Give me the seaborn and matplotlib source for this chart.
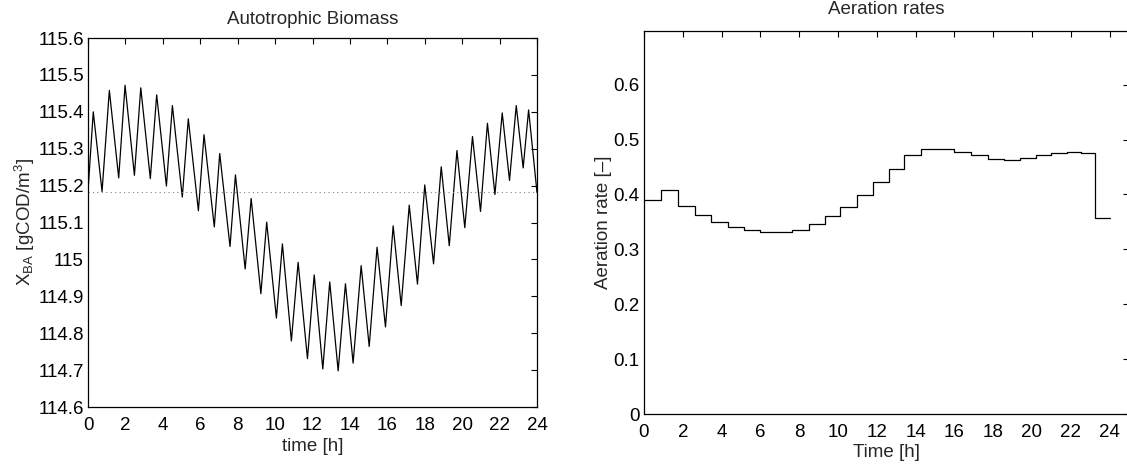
import numpy as np
import matplotlib
matplotlib.use('Agg')
import matplotlib.pyplot as plt
import seaborn as sns
import pandas as pd

# Autotrophic biomass zigzag (time in h, value in gCOD/m3)
t_bio = [0.0, 0.28, 0.75, 1.14, 1.64, 1.98, 2.48, 2.82, 3.33, 3.67, 4.19, 4.51, 5.04,
         5.36, 5.90, 6.20, 6.75, 7.04, 7.59, 7.88, 8.40, 8.72, 9.24, 9.55, 10.07,
         10.39, 10.87, 11.23, 11.73, 12.09, 12.55, 12.92, 13.37, 13.76, 14.17,
         14.60, 15.03, 15.45, 15.90, 16.31, 16.74, 17.17, 17.61, 18.00, 18.47,
         18.88, 19.31, 19.72, 20.14, 20.55, 20.98, 21.35, 21.75, 22.14, 22.53,
         22.89, 23.26, 23.55, 24.0]
x_ba = [115.185, 115.400, 115.184, 115.458, 115.221, 115.472, 115.228, 115.465,
        115.219, 115.446, 115.199, 115.417, 115.169, 115.381, 115.132, 115.338,
        115.088, 115.287, 115.035, 115.229, 114.974, 115.165, 114.907, 115.101,
        114.841, 115.042, 114.779, 114.992, 114.731, 114.958, 114.703, 114.939,
        114.698, 114.934, 114.719, 114.983, 114.764, 115.033, 114.817, 115.091,
        114.875, 115.147, 114.933, 115.202, 114.988, 115.251, 115.037, 115.295,
        115.086, 115.333, 115.130, 115.369, 115.176, 115.397, 115.214, 115.417,
        115.248, 115.405, 115.181]
x_ba_ref = 115.182

# Aeration rate steps: edges and value held on each interval
t_edges = [0.0, 0.87, 1.76, 2.62, 3.48, 4.32, 5.15, 5.99, 6.82, 7.65, 8.49, 9.32,
           10.12, 10.96, 11.80, 12.63, 13.43, 14.28, 15.12, 15.98, 16.85, 17.71,
           18.56, 19.40, 20.22, 20.99, 21.79, 22.53, 23.23, 24.0]
aer = [0.3905, 0.409, 0.379, 0.3625, 0.350, 0.341, 0.336, 0.332, 0.332, 0.336,
       0.3467, 0.3606, 0.378, 0.399, 0.4234, 0.447, 0.4726, 0.4836, 0.483, 0.478,
       0.4714, 0.4646, 0.4628, 0.4659, 0.472, 0.475, 0.4774, 0.475, 0.3577]

sns.set_style('white')
plt.rcParams['font.family'] = ['Liberation Sans', 'DejaVu Sans']
plt.rcParams['mathtext.fontset'] = 'custom'
plt.rcParams['mathtext.rm'] = 'Liberation Sans'
plt.rcParams['mathtext.it'] = 'Liberation Sans:italic'

fs = 13.5
fig = plt.figure(figsize=(11.27, 4.66), dpi=100)
ax1 = fig.add_axes([0.0781, 0.1266, 0.3984, 0.7918])
ax2 = fig.add_axes([0.5714, 0.1109, 0.4303, 0.8232])

# Autotrophic biomass
df1 = pd.DataFrame({'t': t_bio, 'x': x_ba})
sns.lineplot(data=df1, x='t', y='x', ax=ax1, color='black', lw=0.9, sort=False)
ax1.axhline(x_ba_ref, color='gray', ls=(0, (1, 3)), lw=0.8)
ax1.set_xlim(0, 24)
ax1.set_ylim(114.6, 115.6)
ax1.set_xticks(range(0, 25, 2))
yt = np.round(np.arange(114.6, 115.61, 0.1), 1)
ax1.set_yticks(yt)
ax1.set_yticklabels([f'{v:g}' for v in yt])
ax1.set_title('Autotrophic Biomass', fontsize=fs, pad=10)
ax1.set_xlabel('time [h]', fontsize=fs, labelpad=3)
ax1.set_ylabel(r'X$_{\mathrm{BA}}$ [gCOD/m$^{3}$]', fontsize=fs, labelpad=1)

# Aeration rates
df2 = pd.DataFrame({'t': t_edges, 'a': aer + [aer[-1]]})
sns.lineplot(data=df2, x='t', y='a', ax=ax2, color='black', lw=0.9, sort=False,
             drawstyle='steps-post')
ax2.set_xlim(0, 25)
ax2.set_ylim(0, 0.698)
ax2.set_xticks(range(0, 25, 2))
ax2.set_yticks([0, 0.1, 0.2, 0.3, 0.4, 0.5, 0.6])
ax2.set_yticklabels(['0', '0.1', '0.2', '0.3', '0.4', '0.5', '0.6'])
ax2.set_title('Aeration rates', fontsize=fs, pad=12)
ax2.set_xlabel('Time [h]', fontsize=fs, labelpad=2)
ax2.set_ylabel('Aeration rate [\u2013]', fontsize=fs, labelpad=1)

for ax in (ax1, ax2):
    ax.tick_params(direction='in', top=True, right=True, length=4, width=0.8,
                   labelsize=fs, pad=3, colors='black')
    ax.tick_params(axis='x', pad=7)
    for s in ax.spines.values():
        s.set_color('black')
        s.set_linewidth(0.9)

fig.savefig('out.png', dpi=100)
